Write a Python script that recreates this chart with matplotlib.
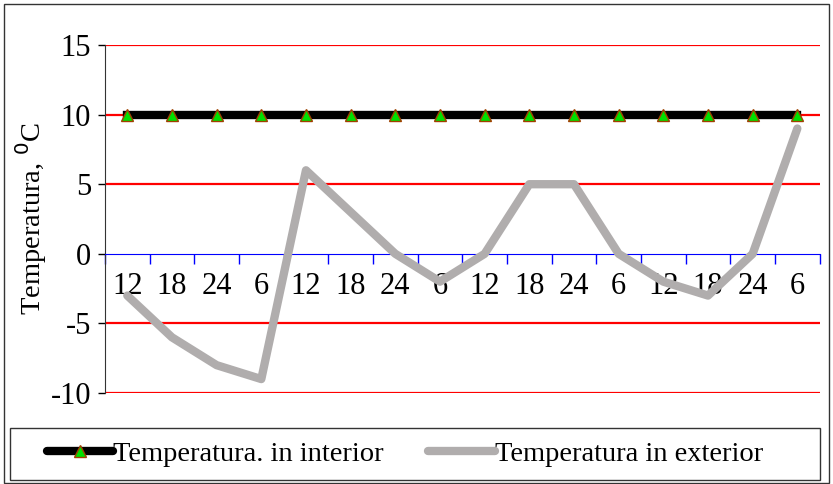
import matplotlib
matplotlib.use('Agg')
import matplotlib.pyplot as plt
from matplotlib.patches import Rectangle
from matplotlib.lines import Line2D

hours = ['12', '18', '24', '6', '12', '18', '24', '6',
         '12', '18', '24', '6', '12', '18', '24', '6']
t_interior = [10, 10, 10, 10, 10, 10, 10, 10,
              10, 10, 10, 10, 10, 10, 10, 10]
t_exterior = [-3, -6, -8, -9, 6, 3, 0, -2,
              0, 5, 5, 0, -2, -3, 0, 9]
y_ticks = [-10, -5, 0, 5, 10, 15]

plt.rcParams['font.family'] = ['Liberation Serif', 'DejaVu Serif']
plt.rcParams['font.size'] = 22

fig = plt.figure(figsize=(8.33, 4.84), dpi=100)
ax = fig.add_axes([0.126, 0.188, 0.858, 0.719])

x = list(range(len(hours)))
x_lo, x_hi = -0.5, len(hours) - 0.5

# red grid, the zero line is the blue category axis
for v in y_ticks:
    if v != 0:
        ax.plot([x_lo, x_hi], [v, v], color='red', lw=1.6, zorder=1)

ax.plot(x, t_exterior, color='#b0adad', lw=6, solid_capstyle='round',
        solid_joinstyle='round', zorder=3)
ax.plot(x, t_interior, color='black', lw=6, zorder=4)
ax.plot(x, t_interior, ls='none', marker='^', ms=8, mfc='#00e000',
        mec='#a04000', mew=1, zorder=5)

ax.set_xlim(x_lo, x_hi)
ax.set_ylim(-10, 15)
ax.set_yticks(y_ticks)
ax.set_yticklabels([str(v) for v in y_ticks])
ax.tick_params(axis='y', direction='out', length=5, width=1, pad=5)

ax.spines['top'].set_visible(False)
ax.spines['right'].set_visible(False)
ax.spines['left'].set_color('#333333')
ax.spines['bottom'].set_position(('data', 0))
ax.spines['bottom'].set_color('blue')

ax.set_xticks(x)
ax.set_xticklabels(hours)
ax.set_xticks([i - 0.5 for i in range(len(hours) + 1)], minor=True)
ax.tick_params(axis='x', which='major', length=0, pad=13)
ax.tick_params(axis='x', which='minor', direction='out', length=7,
               color='blue', width=1)

ax.set_ylabel('Temperatura, $^{0}$C', fontsize=20.5, labelpad=1)

# legend box along the bottom
fig.patches.append(Rectangle((10 / 833, 4 / 484), 810 / 833, 52 / 484,
                             transform=fig.transFigure, fill=False,
                             ec='#333333', lw=1))
handles = [
    Line2D([], [], color='black', lw=6, solid_capstyle='round', marker='^',
           ms=8, mfc='#00e000', mec='#a04000'),
    Line2D([], [], color='#b0adad', lw=6, solid_capstyle='round'),
]
fig.legend(handles, ['Temperatura. in interior', 'Temperatura in exterior'],
           loc='center', bbox_to_anchor=(405 / 833, 30 / 484), ncol=2,
           numpoints=1, frameon=False, handlelength=2.35, handletextpad=0.0,
           columnspacing=1.55, fontsize=20.5)

# outer border of the chart
fig.patches.append(Rectangle((4 / 833, 1 / 484), 825 / 833, 479 / 484,
                             transform=fig.transFigure, fill=False,
                             ec='#333333', lw=1))

fig.savefig('out.png', dpi=100)
